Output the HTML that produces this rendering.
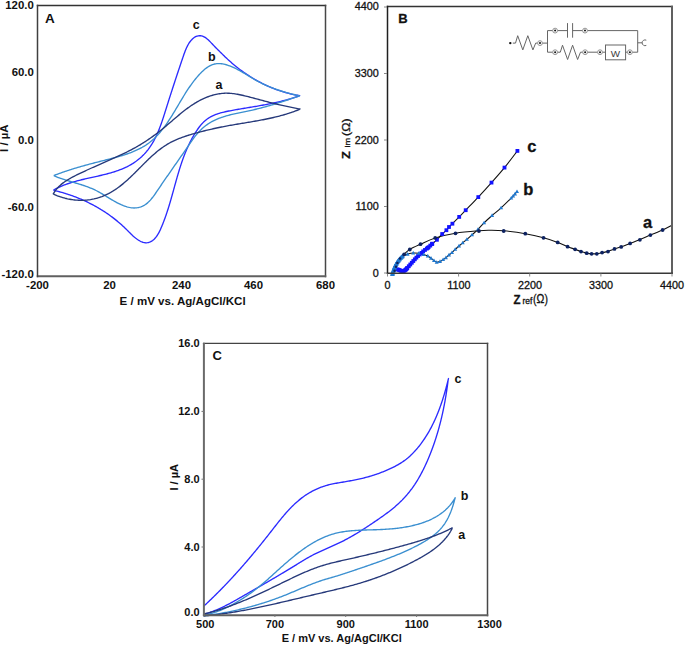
<!DOCTYPE html>
<html><head><meta charset="utf-8"><title>Figure</title>
<style>html,body{margin:0;padding:0;background:#fff;width:685px;height:645px;overflow:hidden}svg{display:block}text{font-family:"Liberation Sans",sans-serif}</style>
</head><body>
<svg width="685" height="645" viewBox="0 0 685 645">
<rect width="685" height="645" fill="#fff"/>
<g fill="none" stroke-width="1.35" stroke-linejoin="round">
<path stroke="#2b2bff" d="M53.45,190.12 L54.52,189.53 L55.59,188.95 L56.68,188.39 L57.76,187.86 L58.85,187.34 L59.95,186.83 L61.05,186.35 L62.16,185.88 L63.27,185.42 L64.39,184.98 L65.51,184.56 L66.63,184.15 L67.76,183.75 L68.89,183.36 L70.03,182.99 L71.17,182.63 L72.31,182.27 L73.46,181.93 L74.61,181.60 L75.76,181.28 L76.92,180.96 L78.07,180.66 L79.23,180.36 L80.40,180.06 L81.56,179.78 L82.73,179.50 L83.90,179.22 L85.07,178.95 L86.24,178.68 L87.42,178.41 L88.59,178.15 L89.77,177.89 L90.95,177.63 L92.12,177.37 L93.30,177.11 L94.48,176.84 L95.66,176.58 L96.84,176.32 L98.02,176.05 L99.20,175.78 L100.38,175.51 L101.56,175.23 L102.74,174.95 L103.92,174.67 L105.10,174.37 L106.28,174.07 L107.45,173.77 L108.63,173.45 L109.80,173.13 L110.96,172.79 L112.13,172.45 L113.29,172.10 L114.45,171.74 L115.60,171.36 L116.75,170.98 L117.89,170.58 L119.02,170.16 L120.15,169.74 L121.28,169.30 L122.39,168.84 L123.50,168.37 L124.60,167.88 L125.69,167.37 L126.78,166.85 L127.85,166.31 L128.91,165.75 L129.97,165.17 L131.01,164.57 L132.05,163.95 L133.07,163.31 L134.08,162.65 L135.07,161.97 L136.06,161.27 L137.03,160.55 L137.98,159.81 L138.92,159.05 L139.85,158.27 L140.76,157.47 L141.65,156.66 L142.52,155.83 L143.38,154.98 L144.22,154.12 L145.04,153.24 L145.83,152.35 L146.61,151.44 L147.37,150.51 L148.11,149.57 L148.82,148.62 L149.52,147.65 L150.20,146.68 L150.87,145.68 L151.51,144.68 L152.14,143.67 L152.75,142.64 L153.35,141.60 L153.93,140.56 L154.49,139.50 L155.04,138.43 L155.58,137.36 L156.11,136.27 L156.62,135.18 L157.12,134.08 L157.61,132.98 L158.08,131.86 L158.55,130.74 L159.01,129.62 L159.45,128.49 L159.89,127.35 L160.32,126.21 L160.74,125.06 L161.15,123.91 L161.56,122.76 L161.96,121.61 L162.35,120.45 L162.74,119.29 L163.12,118.13 L163.50,116.97 L163.88,115.81 L164.25,114.64 L164.62,113.48 L164.98,112.32 L165.35,111.16 L165.71,110.00 L166.07,108.84 L166.43,107.69 L166.80,106.53 L167.16,105.38 L167.52,104.24 L167.88,103.09 L168.24,101.95 L168.61,100.81 L168.97,99.67 L169.33,98.53 L169.69,97.39 L170.06,96.25 L170.42,95.12 L170.78,93.98 L171.15,92.85 L171.51,91.72 L171.88,90.59 L172.25,89.46 L172.61,88.32 L172.98,87.19 L173.35,86.06 L173.72,84.93 L174.09,83.80 L174.46,82.67 L174.83,81.53 L175.20,80.40 L175.57,79.27 L175.95,78.13 L176.32,77.00 L176.70,75.86 L177.08,74.72 L177.46,73.58 L177.84,72.44 L178.22,71.29 L178.60,70.15 L178.99,69.00 L179.37,67.85 L179.76,66.70 L180.15,65.54 L180.54,64.38 L180.93,63.22 L181.32,62.06 L181.72,60.89 L182.12,59.72 L182.51,58.55 L182.92,57.37 L183.32,56.19 L183.72,55.01 L184.14,53.83 L184.56,52.65 L185.00,51.48 L185.45,50.32 L185.93,49.17 L186.42,48.04 L186.94,46.93 L187.49,45.84 L188.07,44.77 L188.69,43.73 L189.34,42.72 L190.03,41.75 L190.77,40.81 L191.56,39.91 L192.39,39.06 L193.28,38.27 L194.20,37.55 L195.17,36.94 L196.17,36.44 L197.21,36.07 L198.26,35.82 L199.33,35.70 L200.41,35.71 L201.48,35.85 L202.53,36.13 L203.56,36.53 L204.58,37.06 L205.57,37.69 L206.55,38.41 L207.51,39.20 L208.45,40.06 L209.38,40.96 L210.30,41.89 L211.20,42.84 L212.09,43.79 L212.97,44.73 L213.84,45.64 L214.70,46.53 L215.55,47.41 L216.40,48.26 L217.25,49.11 L218.09,49.95 L218.93,50.78 L219.78,51.62 L220.62,52.45 L221.47,53.29 L222.32,54.13 L223.18,54.97 L224.04,55.81 L224.90,56.64 L225.77,57.47 L226.64,58.30 L227.52,59.12 L228.41,59.94 L229.30,60.75 L230.20,61.55 L231.10,62.35 L232.01,63.14 L232.93,63.92 L233.85,64.70 L234.78,65.47 L235.71,66.23 L236.65,66.98 L237.60,67.73 L238.55,68.47 L239.51,69.20 L240.47,69.93 L241.44,70.64 L242.41,71.35 L243.39,72.05 L244.38,72.75 L245.37,73.43 L246.37,74.11 L247.37,74.78 L248.38,75.44 L249.39,76.09 L250.41,76.74 L251.43,77.37 L252.46,78.00 L253.49,78.62 L254.53,79.23 L255.57,79.83 L256.62,80.42 L257.67,81.01 L258.73,81.58 L259.79,82.15 L260.86,82.70 L261.93,83.25 L263.01,83.79 L264.09,84.32 L265.18,84.84 L266.27,85.35 L267.36,85.85 L268.46,86.34 L269.57,86.82 L270.68,87.30 L271.79,87.76 L272.91,88.21 L274.03,88.65 L275.15,89.08 L276.28,89.51 L277.42,89.92 L278.55,90.32 L279.69,90.71 L280.84,91.09 L281.99,91.46 L283.14,91.82 L284.30,92.17 L285.46,92.51 L286.62,92.84 L287.79,93.15 L288.96,93.46 L290.14,93.75 L291.32,94.04 L292.50,94.31 L293.68,94.57 L294.87,94.82 L296.07,95.06 L297.26,95.28 L298.46,95.50 L299.66,95.70 L298.48,96.17 L297.32,96.57 L296.16,96.97 L294.99,97.35 L293.83,97.73 L292.66,98.10 L291.50,98.45 L290.34,98.80 L289.17,99.14 L288.00,99.48 L286.84,99.80 L285.67,100.12 L284.51,100.43 L283.34,100.74 L282.17,101.03 L281.01,101.32 L279.84,101.61 L278.67,101.88 L277.50,102.15 L276.33,102.42 L275.16,102.68 L273.99,102.93 L272.82,103.18 L271.64,103.43 L270.47,103.67 L269.30,103.91 L268.12,104.14 L266.95,104.37 L265.77,104.59 L264.60,104.81 L263.42,105.03 L262.24,105.25 L261.06,105.46 L259.88,105.67 L258.70,105.88 L257.52,106.08 L256.34,106.29 L255.16,106.49 L253.97,106.69 L252.79,106.89 L251.60,107.09 L250.41,107.29 L249.22,107.49 L248.03,107.68 L246.84,107.88 L245.65,108.08 L244.46,108.28 L243.26,108.48 L242.07,108.68 L240.87,108.88 L239.67,109.09 L238.47,109.29 L237.27,109.50 L236.07,109.71 L234.87,109.92 L233.66,110.14 L232.46,110.36 L231.25,110.58 L230.04,110.80 L228.83,111.03 L227.63,111.27 L226.42,111.52 L225.22,111.78 L224.03,112.05 L222.84,112.34 L221.66,112.64 L220.49,112.96 L219.33,113.30 L218.18,113.66 L217.05,114.04 L215.92,114.45 L214.81,114.88 L213.72,115.34 L212.64,115.83 L211.58,116.34 L210.55,116.89 L209.53,117.48 L208.53,118.10 L207.56,118.75 L206.60,119.45 L205.68,120.18 L204.78,120.95 L203.90,121.76 L203.05,122.61 L202.22,123.48 L201.41,124.38 L200.62,125.31 L199.85,126.27 L199.10,127.24 L198.37,128.24 L197.66,129.25 L196.96,130.27 L196.28,131.30 L195.61,132.35 L194.96,133.39 L194.32,134.45 L193.70,135.50 L193.08,136.56 L192.48,137.63 L191.90,138.69 L191.32,139.76 L190.76,140.84 L190.21,141.92 L189.67,143.00 L189.14,144.08 L188.62,145.17 L188.11,146.26 L187.61,147.35 L187.12,148.45 L186.64,149.55 L186.17,150.66 L185.71,151.76 L185.26,152.87 L184.82,153.98 L184.38,155.10 L183.95,156.21 L183.53,157.33 L183.12,158.45 L182.72,159.58 L182.32,160.70 L181.92,161.83 L181.54,162.96 L181.16,164.10 L180.78,165.23 L180.42,166.37 L180.05,167.51 L179.69,168.65 L179.34,169.79 L178.99,170.93 L178.64,172.08 L178.30,173.22 L177.96,174.37 L177.62,175.52 L177.29,176.67 L176.96,177.83 L176.63,178.98 L176.31,180.13 L175.98,181.29 L175.66,182.45 L175.34,183.60 L175.02,184.76 L174.70,185.92 L174.38,187.08 L174.06,188.24 L173.74,189.40 L173.42,190.57 L173.10,191.73 L172.78,192.89 L172.45,194.05 L172.13,195.22 L171.80,196.38 L171.47,197.54 L171.14,198.71 L170.81,199.87 L170.47,201.03 L170.13,202.20 L169.78,203.36 L169.44,204.52 L169.08,205.68 L168.73,206.84 L168.37,208.01 L168.00,209.17 L167.63,210.33 L167.25,211.49 L166.87,212.64 L166.48,213.80 L166.09,214.96 L165.69,216.11 L165.28,217.27 L164.86,218.42 L164.44,219.57 L164.01,220.72 L163.57,221.87 L163.12,223.02 L162.67,224.17 L162.20,225.31 L161.73,226.45 L161.25,227.60 L160.75,228.74 L160.25,229.87 L159.72,230.99 L159.17,232.09 L158.60,233.17 L158.00,234.22 L157.36,235.25 L156.69,236.23 L155.97,237.18 L155.21,238.08 L154.40,238.93 L153.54,239.72 L152.63,240.45 L151.68,241.10 L150.70,241.66 L149.68,242.12 L148.64,242.47 L147.58,242.70 L146.50,242.80 L145.41,242.77 L144.32,242.62 L143.22,242.35 L142.13,241.99 L141.04,241.54 L139.96,241.01 L138.90,240.41 L137.85,239.75 L136.83,239.04 L135.84,238.30 L134.87,237.53 L133.93,236.73 L133.01,235.91 L132.11,235.07 L131.23,234.21 L130.35,233.35 L129.48,232.48 L128.62,231.61 L127.76,230.73 L126.89,229.86 L126.02,229.00 L125.15,228.15 L124.27,227.31 L123.38,226.47 L122.48,225.65 L121.58,224.83 L120.67,224.02 L119.76,223.23 L118.84,222.44 L117.91,221.65 L116.98,220.88 L116.04,220.12 L115.10,219.36 L114.15,218.62 L113.19,217.88 L112.23,217.15 L111.26,216.43 L110.29,215.72 L109.31,215.02 L108.33,214.32 L107.34,213.63 L106.35,212.96 L105.35,212.29 L104.34,211.63 L103.33,210.98 L102.32,210.33 L101.30,209.70 L100.27,209.07 L99.24,208.46 L98.21,207.85 L97.17,207.25 L96.12,206.65 L95.07,206.07 L94.02,205.50 L92.96,204.93 L91.90,204.37 L90.83,203.82 L89.76,203.28 L88.68,202.74 L87.60,202.22 L86.52,201.70 L85.43,201.19 L84.34,200.69 L83.24,200.20 L82.14,199.71 L81.03,199.24 L79.92,198.77 L78.81,198.31 L77.69,197.86 L76.57,197.42 L75.45,196.98 L74.32,196.55 L73.19,196.13 L72.05,195.72 L70.91,195.32 L69.77,194.92 L68.63,194.54 L67.48,194.16 L66.32,193.79 L65.17,193.42 L64.01,193.07 L62.85,192.72 L61.68,192.38 L60.52,192.05 L59.35,191.73 L58.17,191.41 L57.00,191.11 L55.82,190.81 L54.64,190.51 L53.45,190.23"/>
<path stroke="#3a8fd0" d="M53.67,175.62 L54.82,175.17 L55.98,174.73 L57.13,174.30 L58.27,173.87 L59.42,173.45 L60.57,173.03 L61.72,172.63 L62.86,172.22 L64.01,171.82 L65.16,171.43 L66.30,171.05 L67.45,170.67 L68.59,170.29 L69.74,169.92 L70.88,169.55 L72.03,169.19 L73.17,168.84 L74.32,168.48 L75.46,168.14 L76.61,167.79 L77.76,167.45 L78.90,167.12 L80.05,166.78 L81.20,166.45 L82.35,166.13 L83.50,165.80 L84.65,165.48 L85.81,165.16 L86.96,164.85 L88.11,164.53 L89.27,164.22 L90.43,163.91 L91.59,163.60 L92.75,163.30 L93.91,162.99 L95.08,162.69 L96.24,162.39 L97.41,162.09 L98.58,161.79 L99.76,161.49 L100.93,161.19 L102.11,160.89 L103.29,160.59 L104.47,160.29 L105.65,160.00 L106.84,159.70 L108.03,159.40 L109.22,159.09 L110.41,158.79 L111.60,158.48 L112.79,158.17 L113.97,157.85 L115.16,157.54 L116.35,157.21 L117.54,156.88 L118.72,156.55 L119.90,156.21 L121.08,155.86 L122.25,155.50 L123.42,155.14 L124.58,154.77 L125.74,154.39 L126.90,154.00 L128.05,153.60 L129.19,153.19 L130.33,152.77 L131.46,152.34 L132.58,151.89 L133.69,151.44 L134.80,150.97 L135.90,150.48 L136.99,149.99 L138.07,149.48 L139.14,148.95 L140.19,148.41 L141.24,147.85 L142.28,147.28 L143.30,146.69 L144.32,146.08 L145.32,145.45 L146.31,144.81 L147.28,144.14 L148.24,143.46 L149.19,142.76 L150.12,142.04 L151.04,141.29 L151.94,140.53 L152.83,139.75 L153.71,138.96 L154.57,138.14 L155.43,137.31 L156.27,136.46 L157.10,135.60 L157.91,134.73 L158.72,133.84 L159.52,132.93 L160.30,132.02 L161.07,131.09 L161.84,130.15 L162.59,129.19 L163.34,128.23 L164.07,127.26 L164.80,126.28 L165.52,125.28 L166.23,124.29 L166.94,123.28 L167.63,122.27 L168.32,121.25 L169.00,120.22 L169.68,119.19 L170.35,118.15 L171.01,117.11 L171.67,116.07 L172.32,115.02 L172.96,113.97 L173.61,112.92 L174.24,111.87 L174.88,110.82 L175.51,109.76 L176.13,108.71 L176.76,107.66 L177.38,106.61 L178.00,105.57 L178.61,104.52 L179.23,103.48 L179.84,102.44 L180.45,101.41 L181.07,100.37 L181.68,99.34 L182.30,98.32 L182.92,97.29 L183.54,96.27 L184.16,95.25 L184.79,94.24 L185.42,93.23 L186.06,92.22 L186.70,91.22 L187.35,90.22 L188.01,89.23 L188.67,88.23 L189.34,87.25 L190.03,86.26 L190.72,85.28 L191.41,84.31 L192.12,83.34 L192.85,82.37 L193.58,81.41 L194.32,80.45 L195.08,79.50 L195.85,78.55 L196.64,77.61 L197.44,76.67 L198.25,75.73 L199.08,74.81 L199.93,73.89 L200.79,72.99 L201.67,72.10 L202.56,71.24 L203.47,70.40 L204.40,69.59 L205.34,68.81 L206.30,68.08 L207.27,67.38 L208.27,66.73 L209.28,66.13 L210.30,65.59 L211.35,65.10 L212.41,64.67 L213.49,64.31 L214.58,64.02 L215.70,63.80 L216.83,63.65 L217.97,63.58 L219.13,63.58 L220.30,63.64 L221.48,63.76 L222.66,63.94 L223.85,64.17 L225.04,64.44 L226.23,64.77 L227.42,65.13 L228.60,65.53 L229.78,65.96 L230.95,66.42 L232.10,66.90 L233.24,67.40 L234.37,67.92 L235.48,68.46 L236.59,69.01 L237.67,69.58 L238.75,70.15 L239.82,70.74 L240.88,71.34 L241.93,71.94 L242.98,72.55 L244.01,73.17 L245.05,73.79 L246.08,74.41 L247.11,75.04 L248.13,75.67 L249.16,76.29 L250.18,76.92 L251.21,77.54 L252.24,78.15 L253.27,78.76 L254.31,79.36 L255.35,79.96 L256.40,80.54 L257.46,81.11 L258.52,81.67 L259.59,82.23 L260.67,82.77 L261.75,83.30 L262.84,83.82 L263.93,84.33 L265.03,84.84 L266.14,85.33 L267.25,85.81 L268.37,86.28 L269.49,86.75 L270.61,87.20 L271.74,87.65 L272.87,88.08 L274.01,88.51 L275.15,88.93 L276.29,89.34 L277.44,89.74 L278.59,90.13 L279.75,90.51 L280.90,90.89 L282.06,91.25 L283.22,91.61 L284.38,91.96 L285.55,92.31 L286.71,92.64 L287.88,92.97 L289.05,93.29 L290.22,93.60 L291.39,93.90 L292.56,94.20 L293.73,94.49 L294.90,94.77 L296.07,95.05 L297.24,95.32 L298.40,95.58 L299.57,95.84 L298.49,96.24 L297.33,96.64 L296.17,97.03 L295.01,97.43 L293.85,97.82 L292.70,98.21 L291.55,98.59 L290.40,98.98 L289.25,99.36 L288.10,99.75 L286.95,100.13 L285.81,100.50 L284.66,100.88 L283.52,101.25 L282.38,101.62 L281.24,101.99 L280.09,102.35 L278.95,102.72 L277.81,103.08 L276.67,103.43 L275.53,103.79 L274.38,104.14 L273.24,104.48 L272.10,104.83 L270.95,105.17 L269.81,105.50 L268.66,105.84 L267.51,106.17 L266.36,106.49 L265.21,106.81 L264.05,107.13 L262.90,107.44 L261.74,107.75 L260.58,108.06 L259.42,108.36 L258.26,108.66 L257.09,108.95 L255.92,109.24 L254.74,109.52 L253.57,109.80 L252.39,110.07 L251.20,110.34 L250.02,110.60 L248.83,110.86 L247.63,111.11 L246.44,111.36 L245.24,111.61 L244.04,111.86 L242.84,112.10 L241.63,112.35 L240.43,112.59 L239.23,112.84 L238.03,113.09 L236.83,113.35 L235.63,113.61 L234.43,113.88 L233.24,114.15 L232.05,114.43 L230.86,114.71 L229.68,115.01 L228.51,115.31 L227.34,115.63 L226.17,115.96 L225.01,116.30 L223.86,116.65 L222.72,117.02 L221.58,117.40 L220.45,117.80 L219.33,118.22 L218.23,118.65 L217.13,119.10 L216.04,119.58 L214.96,120.07 L213.89,120.58 L212.84,121.12 L211.80,121.68 L210.77,122.26 L209.75,122.87 L208.75,123.50 L207.77,124.16 L206.79,124.84 L205.84,125.55 L204.90,126.28 L203.97,127.04 L203.06,127.81 L202.16,128.61 L201.28,129.43 L200.42,130.27 L199.57,131.13 L198.74,132.01 L197.92,132.91 L197.12,133.82 L196.34,134.76 L195.58,135.70 L194.83,136.67 L194.09,137.64 L193.37,138.63 L192.65,139.62 L191.95,140.62 L191.25,141.62 L190.56,142.63 L189.87,143.63 L189.18,144.63 L188.50,145.63 L187.81,146.63 L187.13,147.63 L186.44,148.62 L185.76,149.61 L185.08,150.59 L184.40,151.58 L183.72,152.56 L183.04,153.54 L182.36,154.52 L181.68,155.50 L181.00,156.48 L180.32,157.45 L179.64,158.43 L178.96,159.40 L178.28,160.37 L177.61,161.35 L176.93,162.32 L176.25,163.29 L175.57,164.26 L174.89,165.24 L174.21,166.21 L173.53,167.18 L172.86,168.16 L172.18,169.13 L171.50,170.11 L170.82,171.09 L170.13,172.07 L169.45,173.05 L168.77,174.03 L168.09,175.01 L167.40,176.00 L166.72,176.99 L166.03,177.98 L165.35,178.98 L164.66,179.97 L163.97,180.97 L163.28,181.98 L162.59,182.98 L161.90,183.99 L161.21,185.00 L160.51,186.02 L159.82,187.04 L159.12,188.07 L158.42,189.10 L157.73,190.13 L157.02,191.17 L156.32,192.21 L155.61,193.25 L154.89,194.28 L154.16,195.29 L153.43,196.30 L152.68,197.29 L151.91,198.25 L151.13,199.19 L150.34,200.10 L149.52,200.98 L148.68,201.82 L147.82,202.63 L146.93,203.39 L146.01,204.10 L145.07,204.76 L144.10,205.36 L143.09,205.91 L142.05,206.40 L140.97,206.82 L139.87,207.18 L138.74,207.47 L137.59,207.69 L136.43,207.85 L135.25,207.94 L134.06,207.97 L132.87,207.92 L131.68,207.82 L130.48,207.65 L129.29,207.42 L128.10,207.15 L126.92,206.82 L125.74,206.46 L124.57,206.05 L123.41,205.62 L122.27,205.15 L121.13,204.67 L120.02,204.16 L118.91,203.63 L117.82,203.09 L116.73,202.53 L115.66,201.96 L114.60,201.37 L113.55,200.77 L112.50,200.17 L111.46,199.55 L110.43,198.94 L109.40,198.31 L108.37,197.68 L107.35,197.06 L106.33,196.43 L105.31,195.80 L104.28,195.17 L103.26,194.56 L102.23,193.94 L101.20,193.34 L100.17,192.74 L99.13,192.15 L98.09,191.58 L97.03,191.02 L95.97,190.48 L94.90,189.95 L93.82,189.44 L92.73,188.95 L91.63,188.47 L90.52,188.01 L89.41,187.56 L88.28,187.13 L87.15,186.71 L86.02,186.30 L84.87,185.90 L83.73,185.51 L82.57,185.13 L81.42,184.76 L80.26,184.40 L79.10,184.04 L77.93,183.68 L76.76,183.33 L75.59,182.99 L74.43,182.64 L73.26,182.30 L72.09,181.95 L70.92,181.61 L69.75,181.26 L68.58,180.92 L67.42,180.56 L66.26,180.21 L65.10,179.85 L63.95,179.48 L62.80,179.10 L61.66,178.72 L60.52,178.33 L59.39,177.93 L58.27,177.52 L57.15,177.09 L56.04,176.65 L54.94,176.20 L53.85,175.74"/>
<path stroke="#26397a" d="M53.02,194.39 L53.60,193.32 L54.22,192.28 L54.88,191.28 L55.57,190.32 L56.29,189.38 L57.05,188.48 L57.84,187.60 L58.65,186.76 L59.50,185.94 L60.37,185.15 L61.27,184.38 L62.19,183.63 L63.13,182.91 L64.09,182.21 L65.07,181.53 L66.07,180.86 L67.09,180.22 L68.12,179.59 L69.16,178.97 L70.22,178.37 L71.28,177.78 L72.35,177.20 L73.43,176.63 L74.52,176.07 L75.61,175.52 L76.71,174.97 L77.80,174.43 L78.90,173.90 L79.99,173.37 L81.09,172.84 L82.19,172.31 L83.29,171.80 L84.39,171.28 L85.49,170.77 L86.59,170.26 L87.69,169.75 L88.80,169.25 L89.90,168.75 L91.00,168.25 L92.11,167.75 L93.21,167.26 L94.32,166.76 L95.43,166.27 L96.53,165.78 L97.64,165.29 L98.75,164.81 L99.86,164.32 L100.96,163.83 L102.07,163.35 L103.18,162.86 L104.29,162.37 L105.40,161.89 L106.51,161.40 L107.62,160.91 L108.73,160.42 L109.84,159.93 L110.94,159.44 L112.05,158.95 L113.16,158.45 L114.26,157.96 L115.37,157.46 L116.47,156.95 L117.57,156.45 L118.67,155.94 L119.77,155.43 L120.86,154.92 L121.96,154.40 L123.05,153.88 L124.14,153.35 L125.23,152.82 L126.31,152.28 L127.39,151.74 L128.47,151.20 L129.55,150.65 L130.62,150.09 L131.69,149.53 L132.75,148.97 L133.82,148.39 L134.87,147.81 L135.93,147.23 L136.98,146.63 L138.02,146.03 L139.07,145.42 L140.10,144.81 L141.13,144.19 L142.16,143.55 L143.18,142.92 L144.20,142.27 L145.22,141.61 L146.22,140.95 L147.23,140.28 L148.23,139.61 L149.22,138.93 L150.21,138.24 L151.20,137.54 L152.18,136.84 L153.16,136.13 L154.13,135.41 L155.11,134.69 L156.07,133.97 L157.04,133.23 L157.99,132.50 L158.95,131.75 L159.90,131.00 L160.85,130.25 L161.80,129.49 L162.74,128.73 L163.68,127.96 L164.61,127.19 L165.55,126.41 L166.48,125.64 L167.41,124.85 L168.33,124.07 L169.25,123.28 L170.18,122.49 L171.10,121.70 L172.02,120.90 L172.94,120.11 L173.86,119.32 L174.78,118.53 L175.71,117.74 L176.63,116.96 L177.56,116.17 L178.49,115.39 L179.42,114.61 L180.35,113.84 L181.29,113.08 L182.23,112.31 L183.18,111.56 L184.13,110.81 L185.09,110.07 L186.05,109.33 L187.02,108.61 L187.99,107.89 L188.97,107.18 L189.96,106.49 L190.95,105.80 L191.96,105.13 L192.97,104.46 L193.99,103.81 L195.02,103.17 L196.06,102.55 L197.11,101.94 L198.16,101.34 L199.23,100.76 L200.30,100.20 L201.39,99.65 L202.48,99.12 L203.57,98.61 L204.68,98.11 L205.79,97.64 L206.91,97.19 L208.03,96.75 L209.16,96.34 L210.30,95.95 L211.44,95.59 L212.59,95.24 L213.74,94.92 L214.90,94.63 L216.07,94.36 L217.23,94.12 L218.40,93.90 L219.58,93.71 L220.76,93.55 L221.94,93.42 L223.12,93.32 L224.31,93.24 L225.50,93.20 L226.69,93.19 L227.88,93.21 L229.08,93.26 L230.27,93.33 L231.47,93.43 L232.67,93.56 L233.87,93.70 L235.07,93.87 L236.27,94.06 L237.47,94.27 L238.67,94.49 L239.86,94.73 L241.06,94.98 L242.26,95.24 L243.45,95.51 L244.65,95.79 L245.84,96.08 L247.03,96.38 L248.22,96.68 L249.40,96.98 L250.59,97.29 L251.77,97.60 L252.95,97.91 L254.13,98.23 L255.30,98.55 L256.48,98.87 L257.65,99.18 L258.83,99.50 L260.00,99.82 L261.17,100.14 L262.34,100.45 L263.51,100.76 L264.67,101.07 L265.84,101.38 L267.01,101.69 L268.17,101.99 L269.34,102.29 L270.51,102.58 L271.67,102.88 L272.84,103.17 L274.01,103.46 L275.17,103.74 L276.34,104.02 L277.51,104.30 L278.68,104.58 L279.85,104.86 L281.02,105.13 L282.19,105.39 L283.36,105.66 L284.54,105.92 L285.72,106.18 L286.89,106.43 L288.07,106.68 L289.26,106.93 L290.44,107.17 L291.63,107.42 L292.82,107.65 L294.01,107.89 L295.20,108.12 L296.40,108.34 L297.60,108.57 L298.80,108.79 L300.01,109.00 L298.97,109.60 L297.84,110.05 L296.70,110.50 L295.56,110.93 L294.42,111.36 L293.28,111.77 L292.13,112.17 L290.99,112.57 L289.84,112.95 L288.69,113.33 L287.53,113.70 L286.38,114.05 L285.22,114.40 L284.07,114.74 L282.91,115.08 L281.74,115.40 L280.58,115.72 L279.42,116.03 L278.25,116.33 L277.08,116.63 L275.92,116.92 L274.75,117.20 L273.57,117.48 L272.40,117.75 L271.23,118.01 L270.05,118.27 L268.88,118.52 L267.70,118.77 L266.52,119.02 L265.34,119.26 L264.16,119.49 L262.98,119.72 L261.80,119.95 L260.62,120.17 L259.43,120.39 L258.25,120.61 L257.06,120.82 L255.88,121.03 L254.69,121.24 L253.50,121.45 L252.32,121.65 L251.13,121.86 L249.94,122.06 L248.75,122.26 L247.56,122.45 L246.37,122.65 L245.18,122.85 L243.99,123.05 L242.80,123.24 L241.61,123.44 L240.42,123.64 L239.23,123.83 L238.04,124.03 L236.85,124.23 L235.66,124.43 L234.47,124.64 L233.28,124.84 L232.09,125.05 L230.90,125.25 L229.71,125.46 L228.53,125.68 L227.34,125.89 L226.15,126.11 L224.96,126.34 L223.77,126.56 L222.59,126.79 L221.40,127.03 L220.22,127.27 L219.03,127.51 L217.85,127.75 L216.67,128.00 L215.48,128.26 L214.30,128.52 L213.12,128.78 L211.94,129.05 L210.76,129.32 L209.58,129.59 L208.40,129.87 L207.22,130.15 L206.04,130.44 L204.86,130.73 L203.69,131.02 L202.51,131.32 L201.33,131.63 L200.16,131.93 L198.98,132.24 L197.81,132.56 L196.64,132.88 L195.46,133.20 L194.29,133.53 L193.12,133.86 L191.95,134.20 L190.78,134.55 L189.62,134.90 L188.45,135.26 L187.30,135.63 L186.14,136.00 L184.99,136.38 L183.84,136.78 L182.70,137.18 L181.57,137.60 L180.44,138.02 L179.31,138.46 L178.20,138.91 L177.09,139.37 L175.98,139.85 L174.89,140.34 L173.80,140.84 L172.72,141.36 L171.66,141.90 L170.60,142.45 L169.55,143.02 L168.51,143.60 L167.48,144.20 L166.47,144.82 L165.46,145.46 L164.46,146.11 L163.48,146.78 L162.50,147.47 L161.53,148.16 L160.57,148.87 L159.61,149.60 L158.67,150.34 L157.73,151.08 L156.80,151.84 L155.87,152.62 L154.95,153.40 L154.04,154.19 L153.13,154.99 L152.23,155.80 L151.34,156.62 L150.44,157.44 L149.56,158.27 L148.67,159.11 L147.79,159.96 L146.92,160.80 L146.04,161.66 L145.17,162.52 L144.30,163.38 L143.43,164.24 L142.57,165.11 L141.70,165.98 L140.84,166.85 L139.98,167.72 L139.11,168.59 L138.25,169.46 L137.39,170.33 L136.52,171.19 L135.66,172.06 L134.79,172.92 L133.92,173.78 L133.05,174.63 L132.17,175.48 L131.30,176.33 L130.42,177.17 L129.53,178.00 L128.65,178.83 L127.75,179.65 L126.86,180.46 L125.96,181.26 L125.05,182.06 L124.14,182.84 L123.22,183.61 L122.29,184.38 L121.36,185.13 L120.42,185.87 L119.48,186.60 L118.52,187.31 L117.56,188.01 L116.59,188.70 L115.61,189.37 L114.62,190.03 L113.62,190.67 L112.62,191.29 L111.60,191.90 L110.57,192.49 L109.53,193.06 L108.48,193.62 L107.42,194.15 L106.35,194.66 L105.27,195.16 L104.18,195.63 L103.07,196.08 L101.96,196.52 L100.84,196.93 L99.71,197.32 L98.58,197.69 L97.43,198.03 L96.28,198.35 L95.12,198.65 L93.96,198.93 L92.79,199.18 L91.61,199.41 L90.43,199.62 L89.24,199.80 L88.05,199.95 L86.85,200.08 L85.65,200.19 L84.44,200.27 L83.24,200.32 L82.02,200.34 L80.81,200.34 L79.60,200.32 L78.38,200.27 L77.17,200.20 L75.95,200.10 L74.74,199.98 L73.52,199.84 L72.31,199.67 L71.10,199.48 L69.89,199.27 L68.68,199.04 L67.48,198.79 L66.28,198.51 L65.09,198.22 L63.90,197.90 L62.71,197.57 L61.54,197.22 L60.36,196.84 L59.20,196.45 L58.04,196.04 L56.89,195.62 L55.75,195.17 L54.62,194.71 L53.50,194.24"/>
</g>
<line x1="36.75" y1="5.50" x2="326.25" y2="5.50" stroke="#333" stroke-width="1.40"/><line x1="325.50" y1="4.80" x2="325.50" y2="277.20" stroke="#474747" stroke-width="1.50"/><line x1="36.75" y1="276.20" x2="326.25" y2="276.20" stroke="#606060" stroke-width="2.00"/><line x1="37.50" y1="4.80" x2="37.50" y2="277.20" stroke="#404040" stroke-width="1.50"/>
<g font-family="&quot;Liberation Sans&quot;, sans-serif" font-size="11.4" font-weight="bold" fill="#111">
<text x="33.8" y="9.4" text-anchor="end">120.0</text>
<text x="33.8" y="76.3" text-anchor="end">60.0</text>
<text x="33.8" y="143.8" text-anchor="end">0.0</text>
<text x="33.8" y="211.3" text-anchor="end">-60.0</text>
<text x="33.8" y="278.2" text-anchor="end">-120.0</text>
<text x="37.5" y="289.3" text-anchor="middle">-200</text>
<text x="109.5" y="289.3" text-anchor="middle">20</text>
<text x="181.5" y="289.3" text-anchor="middle">240</text>
<text x="253.5" y="289.3" text-anchor="middle">460</text>
<text x="325.5" y="289.3" text-anchor="middle">680</text>
<text x="119.6" y="305.4" textLength="126" lengthAdjust="spacingAndGlyphs">E / mV vs. Ag/AgCl/KCl</text>
<text transform="translate(8.4,138.2) rotate(-90)" text-anchor="middle">I / µA</text>
<text x="45" y="23" font-size="13.5">A</text>
<text x="192.7" y="28.5" font-size="12.5">c</text>
<text x="208" y="61.2" font-size="12.5">b</text>
<text x="215.6" y="88.7" font-size="12.5">a</text>
</g>
<g fill="none" stroke="#111" stroke-width="1.1">
<path d="M393.20,273.00 C393.37,272.30 393.78,270.17 394.20,268.80 C394.62,267.43 395.13,266.07 395.70,264.80 C396.27,263.53 396.88,262.33 397.60,261.20 C398.32,260.07 398.92,259.17 400.00,258.00 C401.08,256.83 402.47,255.63 404.10,254.20 C405.73,252.77 407.07,251.07 409.80,249.40 C412.53,247.73 416.27,246.12 420.50,244.20 C424.73,242.28 429.37,239.73 435.20,237.90 C441.03,236.07 448.22,234.40 455.50,233.20 C462.78,232.00 473.15,231.18 478.90,230.70 C484.65,230.22 485.87,230.28 490.00,230.30 C494.13,230.32 497.82,230.23 503.70,230.80 C509.58,231.37 518.67,232.53 525.30,233.70 C531.93,234.87 538.10,236.35 543.50,237.80 C548.90,239.25 553.68,240.92 557.70,242.40 C561.72,243.88 564.70,245.55 567.60,246.70 C570.50,247.85 572.87,248.48 575.10,249.30 C577.33,250.12 579.07,250.97 581.00,251.60 C582.93,252.23 584.93,252.73 586.70,253.10 C588.47,253.47 589.92,253.68 591.60,253.80 C593.28,253.92 595.05,253.97 596.80,253.80 C598.55,253.63 600.23,253.20 602.10,252.80 C603.97,252.40 605.93,252.03 608.00,251.40 C610.07,250.77 612.30,249.77 614.50,249.00 C616.70,248.23 618.60,247.73 621.20,246.80 C623.80,245.87 626.98,244.60 630.10,243.40 C633.22,242.20 636.52,240.98 639.90,239.60 C643.28,238.22 646.62,236.70 650.40,235.10 C654.18,233.50 659.07,231.62 662.60,230.00 C666.13,228.38 670.10,226.17 671.60,225.40"/>
<path d="M392.40,274.30 C392.53,273.78 392.90,272.22 393.20,271.20 C393.50,270.18 393.82,269.18 394.20,268.20 C394.58,267.22 395.03,266.23 395.50,265.30 C395.97,264.37 396.47,263.45 397.00,262.60 C397.53,261.75 398.12,260.95 398.70,260.20 C399.28,259.45 399.90,258.72 400.50,258.10 C401.10,257.48 401.67,256.97 402.30,256.50 C402.93,256.03 403.42,255.70 404.30,255.30 C405.18,254.90 406.12,254.48 407.60,254.10 C409.08,253.72 411.35,253.13 413.20,253.00 C415.05,252.87 416.95,253.03 418.70,253.30 C420.45,253.57 422.18,254.15 423.70,254.60 C425.22,255.05 426.58,255.40 427.80,256.00 C429.02,256.60 429.97,257.43 431.00,258.20 C432.03,258.97 433.05,259.92 434.00,260.60 C434.95,261.28 435.70,262.17 436.70,262.30 C437.70,262.43 438.93,261.85 440.00,261.40 C441.07,260.95 442.12,260.22 443.10,259.60 C444.08,258.98 444.92,258.47 445.90,257.70 C446.88,256.93 447.98,255.85 449.00,255.00 C450.02,254.15 450.97,253.53 452.00,252.60 C453.03,251.67 454.03,250.50 455.20,249.40 C456.37,248.30 457.75,247.10 459.00,246.00 C460.25,244.90 461.38,243.90 462.70,242.80 C464.02,241.70 465.35,240.72 466.90,239.40 C468.45,238.08 470.15,236.58 472.00,234.90 C473.85,233.22 475.98,231.32 478.00,229.30 C480.02,227.28 481.75,225.10 484.10,222.80 C486.45,220.50 489.27,218.00 492.10,215.50 C494.93,213.00 497.92,210.70 501.10,207.80 C504.28,204.90 508.55,200.80 511.20,198.10 C513.85,195.40 516.03,192.68 517.00,191.60"/>
<path d="M397.40,269.40 C397.70,269.50 398.57,269.75 399.20,270.00 C399.83,270.25 400.50,270.72 401.20,270.90 C401.90,271.08 402.72,271.22 403.40,271.10 C404.08,270.98 404.65,270.72 405.30,270.20 C405.95,269.68 406.62,268.78 407.30,268.00 C407.98,267.22 408.68,266.33 409.40,265.50 C410.12,264.67 410.83,263.88 411.60,263.00 C412.37,262.12 413.18,261.12 414.00,260.20 C414.82,259.28 415.70,258.32 416.50,257.50 C417.30,256.68 418.02,256.02 418.80,255.30 C419.58,254.58 420.40,253.92 421.20,253.20 C422.00,252.48 422.92,251.58 423.60,251.00 C424.28,250.42 424.60,250.22 425.30,249.70 C426.00,249.18 426.63,248.90 427.80,247.90 C428.97,246.90 430.78,245.05 432.30,243.70 C433.82,242.35 435.25,241.42 436.90,239.80 C438.55,238.18 440.62,235.60 442.20,234.00 C443.78,232.40 445.27,231.37 446.40,230.20 C447.53,229.03 448.00,228.08 449.00,227.00 C450.00,225.92 450.70,225.38 452.40,223.70 C454.10,222.02 456.98,219.15 459.20,216.90 C461.42,214.65 462.52,213.50 465.70,210.20 C468.88,206.90 474.00,201.70 478.30,197.10 C482.60,192.50 487.13,187.52 491.50,182.60 C495.87,177.68 500.18,172.88 504.50,167.60 C508.82,162.32 515.25,153.68 517.40,150.90"/>
</g>
<g fill="#1212ff">
<rect x="395.50" y="267.50" width="3.80" height="3.80"/>
<rect x="396.45" y="267.82" width="3.80" height="3.80"/>
<rect x="397.39" y="268.14" width="3.80" height="3.80"/>
<rect x="398.31" y="268.55" width="3.80" height="3.80"/>
<rect x="399.22" y="268.96" width="3.80" height="3.80"/>
<rect x="400.21" y="269.08" width="3.80" height="3.80"/>
<rect x="401.20" y="269.17" width="3.80" height="3.80"/>
<rect x="402.13" y="268.90" width="3.80" height="3.80"/>
<rect x="403.04" y="268.47" width="3.80" height="3.80"/>
<rect x="403.80" y="267.86" width="3.80" height="3.80"/>
<rect x="404.47" y="267.12" width="3.80" height="3.80"/>
<rect x="405.15" y="266.38" width="3.80" height="3.80"/>
<rect x="405.40" y="266.10" width="3.80" height="3.80"/>
<rect x="406.88" y="264.34" width="3.80" height="3.80"/>
<rect x="408.38" y="262.60" width="3.80" height="3.80"/>
<rect x="409.90" y="260.87" width="3.80" height="3.80"/>
<rect x="411.40" y="259.12" width="3.80" height="3.80"/>
<rect x="412.93" y="257.41" width="3.80" height="3.80"/>
<rect x="414.49" y="255.72" width="3.80" height="3.80"/>
<rect x="416.14" y="254.12" width="3.80" height="3.80"/>
<rect x="417.84" y="252.57" width="3.80" height="3.80"/>
<rect x="419.57" y="251.05" width="3.80" height="3.80"/>
<rect x="421.26" y="249.50" width="3.80" height="3.80"/>
<rect x="423.06" y="248.06" width="3.80" height="3.80"/>
<rect x="424.92" y="246.71" width="3.80" height="3.80"/>
<rect x="426.70" y="245.26" width="3.80" height="3.80"/>
<rect x="428.38" y="243.69" width="3.80" height="3.80"/>
<rect x="430.06" y="242.12" width="3.80" height="3.80"/>
<rect x="457.30" y="215.00" width="3.80" height="3.80"/>
<rect x="463.80" y="208.30" width="3.80" height="3.80"/>
<rect x="476.40" y="195.20" width="3.80" height="3.80"/>
<rect x="489.60" y="180.70" width="3.80" height="3.80"/>
<rect x="502.60" y="165.70" width="3.80" height="3.80"/>
<rect x="515.50" y="149.00" width="3.80" height="3.80"/>
<rect x="450.50" y="221.80" width="3.80" height="3.80"/>
<rect x="447.10" y="225.10" width="3.80" height="3.80"/>
<rect x="444.50" y="228.30" width="3.80" height="3.80"/>
<rect x="440.30" y="232.10" width="3.80" height="3.80"/>
<rect x="435.00" y="237.90" width="3.80" height="3.80"/>
<rect x="430.40" y="241.80" width="3.80" height="3.80"/>
<rect x="425.90" y="246.00" width="3.80" height="3.80"/>
</g>
<g fill="#1f78d0">
<path d="M392.40,271.71L394.80,276.03L390.00,276.03Z"/>
<path d="M392.62,270.84L395.02,275.16L390.22,275.16Z"/>
<path d="M392.85,269.97L395.25,274.29L390.45,274.29Z"/>
<path d="M393.07,269.09L395.47,273.41L390.67,273.41Z"/>
<path d="M393.33,268.23L395.73,272.55L390.93,272.55Z"/>
<path d="M393.61,267.38L396.01,271.70L391.21,271.70Z"/>
<path d="M393.90,266.52L396.30,270.84L391.50,270.84Z"/>
<path d="M394.18,265.67L396.58,269.99L391.78,269.99Z"/>
<path d="M394.54,264.84L396.94,269.16L392.14,269.16Z"/>
<path d="M394.91,264.02L397.31,268.34L392.51,268.34Z"/>
<path d="M395.28,263.20L397.68,267.52L392.88,267.52Z"/>
<path d="M395.67,262.39L398.07,266.71L393.27,266.71Z"/>
<path d="M396.11,261.61L398.51,265.93L393.71,265.93Z"/>
<path d="M396.55,260.82L398.95,265.14L394.15,265.14Z"/>
<path d="M396.99,260.03L399.39,264.35L394.59,264.35Z"/>
<path d="M397.50,259.30L399.90,263.62L395.10,263.62Z"/>
<path d="M398.02,258.56L400.42,262.88L395.62,262.88Z"/>
<path d="M398.54,257.83L400.94,262.15L396.14,262.15Z"/>
<path d="M399.11,257.13L401.51,261.45L396.71,261.45Z"/>
<path d="M399.69,256.45L402.09,260.77L397.29,260.77Z"/>
<path d="M400.28,255.76L402.68,260.08L397.88,260.08Z"/>
<path d="M400.92,255.13L403.32,259.45L398.52,259.45Z"/>
<path d="M401.59,254.54L403.99,258.86L399.19,258.86Z"/>
<path d="M402.27,253.94L404.67,258.26L399.87,258.26Z"/>
<path d="M443.10,257.44L445.10,261.04L441.10,261.04Z"/>
<path d="M445.90,255.54L447.90,259.14L443.90,259.14Z"/>
<path d="M449.00,252.84L451.00,256.44L447.00,256.44Z"/>
<path d="M452.00,250.44L454.00,254.04L450.00,254.04Z"/>
<path d="M455.20,247.24L457.20,250.84L453.20,250.84Z"/>
<path d="M459.00,243.84L461.00,247.44L457.00,247.44Z"/>
<path d="M462.70,240.64L464.70,244.24L460.70,244.24Z"/>
<path d="M466.90,237.24L468.90,240.84L464.90,240.84Z"/>
<path d="M472.00,232.74L474.00,236.34L470.00,236.34Z"/>
<path d="M478.00,227.14L480.00,230.74L476.00,230.74Z"/>
<path d="M484.10,220.64L486.10,224.24L482.10,224.24Z"/>
<path d="M492.10,213.34L494.10,216.94L490.10,216.94Z"/>
<path d="M501.10,205.64L503.10,209.24L499.10,209.24Z"/>
<path d="M511.20,195.94L513.20,199.54L509.20,199.54Z"/>
<path d="M513.10,193.94L515.10,197.54L511.10,197.54Z"/>
<path d="M515.00,191.84L517.00,195.44L513.00,195.44Z"/>
<path d="M517.00,189.44L519.00,193.04L515.00,193.04Z"/>
<path d="M402.90,253.84L404.90,257.44L400.90,257.44Z"/>
<path d="M407.60,252.04L409.60,255.64L405.60,255.64Z"/>
<path d="M413.20,250.84L415.20,254.44L411.20,254.44Z"/>
<path d="M418.70,251.24L420.70,254.84L416.70,254.84Z"/>
<path d="M423.70,252.44L425.70,256.04L421.70,256.04Z"/>
<path d="M427.80,253.84L429.80,257.44L425.80,257.44Z"/>
<path d="M431.00,256.04L433.00,259.64L429.00,259.64Z"/>
<path d="M434.00,258.44L436.00,262.04L432.00,262.04Z"/>
<path d="M436.70,260.24L438.70,263.84L434.70,263.84Z"/>
<path d="M440.00,259.34L442.00,262.94L438.00,262.94Z"/>
</g>
<g fill="#0d2260">
<circle cx="394.60" cy="270.80" r="1.30"/>
<circle cx="396.00" cy="266.80" r="1.30"/>
<circle cx="397.40" cy="263.00" r="1.30"/>
<circle cx="400.00" cy="258.50" r="1.30"/>
<circle cx="404.10" cy="254.40" r="1.90"/>
<circle cx="409.80" cy="249.50" r="1.90"/>
<circle cx="420.50" cy="244.20" r="1.90"/>
<circle cx="435.20" cy="237.90" r="1.90"/>
<circle cx="455.50" cy="233.30" r="1.90"/>
<circle cx="478.90" cy="231.00" r="1.90"/>
<circle cx="503.70" cy="231.00" r="1.90"/>
<circle cx="525.30" cy="233.70" r="1.90"/>
<circle cx="543.50" cy="237.80" r="1.90"/>
<circle cx="557.70" cy="242.40" r="1.90"/>
<circle cx="567.60" cy="246.70" r="1.90"/>
<circle cx="575.10" cy="249.30" r="1.90"/>
<circle cx="581.00" cy="251.60" r="1.90"/>
<circle cx="586.70" cy="253.20" r="1.90"/>
<circle cx="591.60" cy="253.80" r="1.90"/>
<circle cx="596.80" cy="253.80" r="1.90"/>
<circle cx="602.10" cy="252.60" r="1.90"/>
<circle cx="608.00" cy="251.60" r="1.90"/>
<circle cx="614.50" cy="248.90" r="1.90"/>
<circle cx="621.20" cy="246.90" r="1.90"/>
<circle cx="630.10" cy="243.40" r="1.90"/>
<circle cx="639.90" cy="239.80" r="1.90"/>
<circle cx="650.40" cy="235.10" r="1.90"/>
<circle cx="662.60" cy="230.00" r="1.90"/>
</g>
<line x1="386.75" y1="6.50" x2="673.00" y2="6.50" stroke="#333" stroke-width="1.50"/><line x1="672.00" y1="5.75" x2="672.00" y2="274.05" stroke="#606060" stroke-width="2.00"/><line x1="386.75" y1="273.30" x2="673.00" y2="273.30" stroke="#383838" stroke-width="1.50"/><line x1="387.50" y1="5.75" x2="387.50" y2="274.05" stroke="#202020" stroke-width="1.50"/>
<g stroke="#888" stroke-width="1">
<line x1="384" y1="7.0" x2="387" y2="7.0"/>
<line x1="384" y1="73.5" x2="387" y2="73.5"/>
<line x1="384" y1="140.0" x2="387" y2="140.0"/>
<line x1="384" y1="206.5" x2="387" y2="206.5"/>
<line x1="384" y1="273.0" x2="387" y2="273.0"/>
<line x1="387.5" y1="273.5" x2="387.5" y2="276.5"/>
<line x1="458.6" y1="273.5" x2="458.6" y2="276.5"/>
<line x1="529.7" y1="273.5" x2="529.7" y2="276.5"/>
<line x1="600.9" y1="273.5" x2="600.9" y2="276.5"/>
<line x1="672.0" y1="273.5" x2="672.0" y2="276.5"/>
</g>
<g font-family="&quot;Liberation Sans&quot;, sans-serif" font-size="10.8" fill="#111" stroke="#111" stroke-width="0.3">
<text x="378.8" y="9.6" text-anchor="end">4400</text>
<text x="378.8" y="77.1" text-anchor="end">3300</text>
<text x="378.8" y="143.6" text-anchor="end">2200</text>
<text x="378.8" y="210.1" text-anchor="end">1100</text>
<text x="378.8" y="276.6" text-anchor="end">0</text>
<text x="387.5" y="289.2" text-anchor="middle">0</text>
<text x="458.9" y="289.2" text-anchor="middle">1100</text>
<text x="529.9" y="289.2" text-anchor="middle">2200</text>
<text x="601.0" y="289.2" text-anchor="middle">3300</text>
<text x="672.0" y="289.2" text-anchor="middle">4400</text>
<text x="513.4" y="303.6" font-weight="bold" font-size="12.5" textLength="7" lengthAdjust="spacingAndGlyphs">Z</text>
<text x="522.5" y="303.8" font-size="8.8" textLength="9.8" lengthAdjust="spacingAndGlyphs">ref</text>
<text x="533.1" y="303.4" font-size="12.5" textLength="14.8" lengthAdjust="spacingAndGlyphs">(Ω)</text>
<g transform="translate(350.1,158.6) rotate(-90)">
<text x="-0.3" y="0" font-weight="bold" font-size="11" textLength="7.8" lengthAdjust="spacingAndGlyphs">Z</text>
<text x="11" y="-0.2" font-size="8" textLength="9.8" lengthAdjust="spacingAndGlyphs">im</text>
<text x="22.6" y="-0.6" font-size="10.6" textLength="17.6" lengthAdjust="spacingAndGlyphs">(Ω)</text>
</g>
<text x="398.2" y="22.8" font-size="13" font-weight="bold">B</text>
<text x="527.3" y="152" font-size="16.5" font-weight="bold">c</text>
<text x="523.2" y="194.6" font-size="16.5" font-weight="bold">b</text>
<text x="643" y="227.5" font-size="16.5" font-weight="bold">a</text>
</g>
<g fill="none" stroke="#666" stroke-width="1">
<path d="M512.8,43.1 H515.5 L517.7,35.7 L522.8,49.9 L527.8,35.7 L532.9,49.9 L535.7,43.1 H537.5"/>
<path d="M542.5,43.1 H547.5 M547.5,30.6 V52.2 M547.5,30.6 H552.6 M557.6,30.6 H567.5 M572.6,30.6 H582.5 M587.5,30.6 H637.7 V52.2 H632.4 M547.5,52.2 H552.6 M557.6,52.2 H560.3 L562.5,45.2 L567.6,59.5 L572.6,45.2 L577.6,59.5 L580.5,52.2 H582.6 M587.6,52.2 H597.5 M602.5,52.2 H605.5 M625.6,52.2 H627.4 M637.7,42.8 H642.2"/>
<path d="M567.5,23.1 V37.7 M572.6,23.1 V37.7"/>
<rect x="605.5" y="45" width="20.1" height="14.8"/>
<path d="M646.3,40.2 A2.9,2.9 0 1 0 646.3,45.4"/>
<circle cx="540.0" cy="43.1" r="2.4" stroke="#888" stroke-width="0.9"/>
<circle cx="555.1" cy="30.6" r="2.4" stroke="#888" stroke-width="0.9"/>
<circle cx="585.0" cy="30.6" r="2.4" stroke="#888" stroke-width="0.9"/>
<circle cx="555.1" cy="52.2" r="2.4" stroke="#888" stroke-width="0.9"/>
<circle cx="585.1" cy="52.2" r="2.4" stroke="#888" stroke-width="0.9"/>
<circle cx="600.0" cy="52.2" r="2.4" stroke="#888" stroke-width="0.9"/>
<circle cx="629.9" cy="52.2" r="2.4" stroke="#888" stroke-width="0.9"/>
</g>
<g fill="#111">
<circle cx="540.0" cy="43.1" r="1"/>
<circle cx="555.1" cy="30.6" r="1"/>
<circle cx="585.0" cy="30.6" r="1"/>
<circle cx="555.1" cy="52.2" r="1"/>
<circle cx="585.1" cy="52.2" r="1"/>
<circle cx="600.0" cy="52.2" r="1"/>
<circle cx="629.9" cy="52.2" r="1"/>
<circle cx="510.3" cy="43.1" r="1.2"/>
</g>
<text x="615.3" y="56.9" font-size="9.9" text-anchor="middle" fill="#3a3a3a" font-family="&quot;Liberation Sans&quot;, sans-serif">W</text>
<g fill="none" stroke-width="1.35" stroke-linejoin="round" transform="translate(0,0.9)">
<path stroke="#2b2bff" d="M203.47,605.55 L204.37,604.72 L205.26,603.89 L206.15,603.06 L207.04,602.22 L207.92,601.39 L208.80,600.55 L209.68,599.71 L210.55,598.87 L211.43,598.03 L212.30,597.19 L213.17,596.34 L214.03,595.49 L214.89,594.64 L215.75,593.79 L216.61,592.94 L217.47,592.09 L218.32,591.23 L219.17,590.38 L220.02,589.52 L220.86,588.66 L221.71,587.80 L222.55,586.93 L223.39,586.07 L224.22,585.20 L225.06,584.34 L225.89,583.47 L226.72,582.60 L227.55,581.72 L228.37,580.85 L229.20,579.97 L230.02,579.10 L230.84,578.22 L231.66,577.34 L232.47,576.45 L233.28,575.57 L234.10,574.68 L234.90,573.80 L235.71,572.91 L236.52,572.02 L237.32,571.13 L238.12,570.23 L238.92,569.34 L239.72,568.44 L240.52,567.55 L241.31,566.65 L242.11,565.75 L242.90,564.84 L243.69,563.94 L244.47,563.03 L245.26,562.13 L246.05,561.22 L246.83,560.31 L247.61,559.40 L248.39,558.48 L249.17,557.57 L249.95,556.65 L250.72,555.73 L251.50,554.81 L252.27,553.89 L253.04,552.97 L253.81,552.04 L254.58,551.12 L255.35,550.19 L256.12,549.26 L256.88,548.33 L257.65,547.40 L258.41,546.47 L259.17,545.53 L259.93,544.60 L260.69,543.66 L261.45,542.72 L262.21,541.78 L262.96,540.84 L263.72,539.89 L264.47,538.95 L265.23,538.00 L265.98,537.05 L266.73,536.10 L267.48,535.15 L268.23,534.20 L268.98,533.24 L269.73,532.29 L270.48,531.33 L271.22,530.37 L271.97,529.41 L272.72,528.45 L273.46,527.49 L274.21,526.53 L274.96,525.57 L275.71,524.61 L276.46,523.65 L277.21,522.70 L277.97,521.75 L278.73,520.80 L279.49,519.85 L280.25,518.90 L281.02,517.96 L281.79,517.03 L282.56,516.10 L283.34,515.17 L284.12,514.25 L284.91,513.33 L285.71,512.42 L286.50,511.52 L287.31,510.62 L288.12,509.73 L288.94,508.85 L289.76,507.97 L290.59,507.10 L291.43,506.25 L292.27,505.40 L293.12,504.56 L293.99,503.73 L294.85,502.91 L295.73,502.10 L296.62,501.30 L297.52,500.51 L298.42,499.74 L299.34,498.97 L300.26,498.22 L301.20,497.48 L302.15,496.76 L303.11,496.05 L304.08,495.35 L305.06,494.67 L306.05,494.00 L307.06,493.34 L308.08,492.71 L309.11,492.08 L310.15,491.48 L311.20,490.89 L312.27,490.31 L313.34,489.75 L314.43,489.21 L315.52,488.69 L316.62,488.18 L317.73,487.69 L318.85,487.22 L319.98,486.77 L321.11,486.33 L322.25,485.92 L323.40,485.52 L324.55,485.14 L325.71,484.78 L326.87,484.44 L328.04,484.12 L329.21,483.82 L330.38,483.54 L331.56,483.27 L332.74,483.02 L333.92,482.78 L335.10,482.56 L336.29,482.34 L337.47,482.13 L338.66,481.92 L339.84,481.72 L341.03,481.51 L342.21,481.31 L343.40,481.11 L344.58,480.90 L345.77,480.70 L346.95,480.49 L348.13,480.29 L349.31,480.08 L350.49,479.86 L351.68,479.64 L352.85,479.42 L354.03,479.20 L355.21,478.96 L356.39,478.73 L357.56,478.48 L358.74,478.23 L359.91,477.98 L361.08,477.71 L362.26,477.44 L363.43,477.16 L364.60,476.87 L365.76,476.56 L366.93,476.25 L368.09,475.93 L369.26,475.60 L370.42,475.26 L371.58,474.91 L372.74,474.56 L373.89,474.19 L375.04,473.81 L376.19,473.42 L377.34,473.02 L378.48,472.62 L379.62,472.20 L380.76,471.78 L381.89,471.34 L383.02,470.90 L384.14,470.44 L385.27,469.98 L386.38,469.51 L387.49,469.03 L388.60,468.54 L389.70,468.04 L390.80,467.53 L391.89,467.01 L392.97,466.48 L394.05,465.94 L395.12,465.39 L396.19,464.82 L397.24,464.25 L398.28,463.66 L399.32,463.05 L400.34,462.43 L401.36,461.79 L402.36,461.14 L403.34,460.46 L404.32,459.77 L405.28,459.06 L406.23,458.34 L407.16,457.59 L408.08,456.82 L408.98,456.03 L409.87,455.23 L410.75,454.41 L411.61,453.58 L412.46,452.73 L413.30,451.88 L414.12,451.01 L414.94,450.13 L415.74,449.24 L416.53,448.34 L417.31,447.43 L418.08,446.52 L418.84,445.59 L419.59,444.65 L420.32,443.70 L421.05,442.75 L421.76,441.78 L422.46,440.81 L423.16,439.83 L423.84,438.84 L424.51,437.85 L425.17,436.84 L425.83,435.83 L426.47,434.81 L427.10,433.78 L427.72,432.75 L428.33,431.71 L428.94,430.66 L429.53,429.61 L430.12,428.55 L430.69,427.48 L431.26,426.41 L431.81,425.34 L432.36,424.25 L432.90,423.17 L433.43,422.07 L433.95,420.98 L434.47,419.87 L434.97,418.77 L435.47,417.66 L435.96,416.54 L436.44,415.42 L436.91,414.30 L437.37,413.18 L437.83,412.05 L438.28,410.92 L438.72,409.78 L439.16,408.64 L439.58,407.50 L440.00,406.36 L440.41,405.22 L440.82,404.07 L441.22,402.92 L441.61,401.78 L442.00,400.63 L442.38,399.47 L442.75,398.32 L443.11,397.17 L443.47,396.01 L443.83,394.86 L444.18,393.71 L444.52,392.55 L444.85,391.40 L445.18,390.25 L445.51,389.09 L445.83,387.94 L446.14,386.79 L446.45,385.64 L446.75,384.49 L447.05,383.35 L447.34,382.20 L447.63,381.06 L447.92,379.92 L448.20,378.78 L448.47,377.65 L448.20,378.69 L448.06,379.89 L447.90,381.09 L447.75,382.29 L447.59,383.49 L447.43,384.69 L447.27,385.88 L447.10,387.08 L446.92,388.27 L446.75,389.47 L446.57,390.66 L446.38,391.85 L446.20,393.05 L446.01,394.24 L445.81,395.43 L445.61,396.61 L445.41,397.80 L445.20,398.99 L444.99,400.17 L444.77,401.36 L444.55,402.54 L444.33,403.72 L444.10,404.90 L443.87,406.08 L443.63,407.26 L443.39,408.44 L443.15,409.61 L442.90,410.79 L442.64,411.96 L442.38,413.13 L442.12,414.31 L441.85,415.48 L441.58,416.64 L441.30,417.81 L441.02,418.98 L440.73,420.14 L440.44,421.31 L440.14,422.47 L439.84,423.63 L439.53,424.79 L439.22,425.95 L438.91,427.11 L438.58,428.26 L438.26,429.42 L437.92,430.57 L437.59,431.72 L437.24,432.87 L436.90,434.02 L436.54,435.17 L436.18,436.31 L435.82,437.46 L435.45,438.60 L435.08,439.74 L434.70,440.88 L434.31,442.02 L433.92,443.16 L433.52,444.29 L433.12,445.43 L432.71,446.56 L432.29,447.69 L431.87,448.82 L431.45,449.95 L431.02,451.07 L430.58,452.20 L430.13,453.32 L429.68,454.44 L429.23,455.56 L428.76,456.68 L428.30,457.80 L427.82,458.91 L427.34,460.02 L426.85,461.13 L426.36,462.24 L425.85,463.34 L425.34,464.44 L424.83,465.53 L424.30,466.63 L423.77,467.72 L423.24,468.80 L422.69,469.88 L422.13,470.96 L421.57,472.03 L421.00,473.09 L420.42,474.16 L419.84,475.21 L419.24,476.26 L418.64,477.31 L418.03,478.34 L417.40,479.38 L416.77,480.40 L416.13,481.42 L415.48,482.43 L414.83,483.44 L414.16,484.43 L413.48,485.42 L412.79,486.40 L412.10,487.38 L411.39,488.34 L410.67,489.30 L409.94,490.25 L409.20,491.19 L408.46,492.12 L407.70,493.04 L406.93,493.95 L406.14,494.85 L405.35,495.74 L404.55,496.63 L403.74,497.50 L402.91,498.36 L402.08,499.22 L401.23,500.06 L400.38,500.90 L399.52,501.73 L398.65,502.55 L397.77,503.36 L396.88,504.16 L395.98,504.95 L395.08,505.74 L394.17,506.51 L393.25,507.28 L392.32,508.05 L391.38,508.80 L390.44,509.55 L389.49,510.29 L388.54,511.02 L387.58,511.74 L386.61,512.46 L385.64,513.18 L384.67,513.88 L383.69,514.59 L382.70,515.29 L381.72,515.98 L380.73,516.67 L379.74,517.36 L378.74,518.05 L377.75,518.73 L376.75,519.42 L375.75,520.10 L374.76,520.78 L373.76,521.46 L372.76,522.13 L371.76,522.81 L370.75,523.48 L369.75,524.15 L368.75,524.82 L367.74,525.48 L366.73,526.14 L365.72,526.80 L364.71,527.46 L363.70,528.11 L362.68,528.76 L361.67,529.40 L360.65,530.04 L359.63,530.68 L358.60,531.31 L357.58,531.94 L356.55,532.56 L355.52,533.18 L354.49,533.79 L353.45,534.40 L352.41,535.01 L351.37,535.61 L350.33,536.20 L349.28,536.78 L348.23,537.37 L347.18,537.94 L346.12,538.51 L345.06,539.07 L344.00,539.63 L342.93,540.18 L341.86,540.72 L340.79,541.26 L339.71,541.79 L338.63,542.31 L337.54,542.82 L336.46,543.33 L335.37,543.83 L334.27,544.33 L333.18,544.83 L332.08,545.32 L330.98,545.81 L329.89,546.30 L328.79,546.78 L327.69,547.27 L326.59,547.75 L325.49,548.24 L324.39,548.73 L323.29,549.22 L322.19,549.71 L321.10,550.20 L320.00,550.70 L318.91,551.21 L317.82,551.72 L316.74,552.23 L315.66,552.76 L314.58,553.29 L313.50,553.82 L312.43,554.37 L311.37,554.92 L310.31,555.49 L309.25,556.07 L308.20,556.65 L307.16,557.25 L306.12,557.86 L305.08,558.47 L304.05,559.09 L303.02,559.71 L301.99,560.34 L300.97,560.98 L299.94,561.61 L298.92,562.25 L297.89,562.88 L296.87,563.52 L295.84,564.15 L294.82,564.79 L293.79,565.42 L292.76,566.05 L291.73,566.68 L290.70,567.30 L289.67,567.93 L288.64,568.55 L287.61,569.18 L286.58,569.80 L285.55,570.42 L284.52,571.04 L283.48,571.65 L282.45,572.27 L281.41,572.89 L280.38,573.50 L279.34,574.12 L278.31,574.73 L277.27,575.34 L276.23,575.95 L275.19,576.56 L274.16,577.17 L273.12,577.78 L272.08,578.39 L271.04,578.99 L270.00,579.60 L268.96,580.21 L267.92,580.81 L266.88,581.41 L265.84,582.02 L264.79,582.62 L263.75,583.22 L262.71,583.83 L261.67,584.43 L260.62,585.03 L259.58,585.63 L258.54,586.23 L257.49,586.83 L256.45,587.43 L255.41,588.03 L254.36,588.63 L253.32,589.23 L252.27,589.83 L251.23,590.43 L250.19,591.03 L249.14,591.63 L248.10,592.23 L247.05,592.83 L246.01,593.43 L244.96,594.03 L243.92,594.63 L242.87,595.23 L241.83,595.83 L240.78,596.44 L239.73,597.03 L238.69,597.63 L237.64,598.23 L236.59,598.82 L235.54,599.41 L234.49,600.00 L233.44,600.59 L232.38,601.17 L231.33,601.75 L230.27,602.32 L229.21,602.88 L228.14,603.45 L227.08,604.00 L226.01,604.55 L224.93,605.09 L223.86,605.63 L222.78,606.15 L221.70,606.67 L220.61,607.18 L219.52,607.69 L218.42,608.18 L217.32,608.66 L216.22,609.13 L215.11,609.59 L214.00,610.04 L212.88,610.48 L211.75,610.91 L210.62,611.33 L209.48,611.73 L208.34,612.12 L207.19,612.49 L206.04,612.85 L204.88,613.20 L203.71,613.53"/>
<path stroke="#3a8fd0" d="M203.71,614.40 L204.89,614.17 L206.07,613.91 L207.25,613.64 L208.42,613.35 L209.59,613.04 L210.75,612.72 L211.90,612.38 L213.06,612.03 L214.20,611.66 L215.34,611.28 L216.48,610.88 L217.61,610.47 L218.74,610.04 L219.86,609.60 L220.98,609.15 L222.09,608.68 L223.20,608.21 L224.31,607.72 L225.41,607.21 L226.50,606.70 L227.59,606.17 L228.67,605.64 L229.75,605.09 L230.83,604.54 L231.90,603.97 L232.96,603.39 L234.03,602.81 L235.08,602.21 L236.13,601.61 L237.18,601.00 L238.22,600.38 L239.26,599.75 L240.29,599.12 L241.32,598.48 L242.34,597.83 L243.36,597.18 L244.38,596.52 L245.39,595.85 L246.39,595.18 L247.39,594.51 L248.38,593.82 L249.37,593.14 L250.36,592.44 L251.34,591.74 L252.31,591.04 L253.28,590.33 L254.24,589.61 L255.19,588.89 L256.14,588.16 L257.09,587.43 L258.02,586.69 L258.95,585.95 L259.88,585.20 L260.80,584.44 L261.71,583.68 L262.62,582.92 L263.52,582.15 L264.42,581.38 L265.31,580.60 L266.20,579.82 L267.09,579.03 L267.98,578.24 L268.87,577.45 L269.75,576.66 L270.64,575.86 L271.53,575.06 L272.41,574.25 L273.30,573.45 L274.20,572.64 L275.09,571.83 L275.99,571.02 L276.88,570.20 L277.78,569.39 L278.68,568.58 L279.59,567.76 L280.49,566.95 L281.40,566.14 L282.31,565.33 L283.23,564.52 L284.14,563.71 L285.06,562.90 L285.98,562.10 L286.90,561.29 L287.83,560.50 L288.76,559.70 L289.70,558.91 L290.63,558.12 L291.57,557.34 L292.51,556.56 L293.46,555.78 L294.41,555.01 L295.36,554.25 L296.32,553.49 L297.28,552.74 L298.24,551.99 L299.21,551.25 L300.18,550.52 L301.16,549.80 L302.14,549.08 L303.13,548.38 L304.11,547.68 L305.11,546.99 L306.10,546.31 L307.11,545.63 L308.11,544.97 L309.12,544.32 L310.14,543.68 L311.16,543.05 L312.19,542.43 L313.22,541.82 L314.25,541.22 L315.29,540.64 L316.34,540.07 L317.39,539.51 L318.44,538.96 L319.51,538.43 L320.57,537.91 L321.65,537.41 L322.72,536.92 L323.81,536.44 L324.90,535.98 L325.99,535.54 L327.10,535.11 L328.20,534.70 L329.32,534.30 L330.44,533.92 L331.57,533.55 L332.70,533.21 L333.84,532.88 L334.98,532.57 L336.14,532.28 L337.29,532.00 L338.46,531.75 L339.63,531.51 L340.81,531.28 L341.99,531.07 L343.17,530.87 L344.36,530.69 L345.56,530.52 L346.76,530.37 L347.96,530.22 L349.17,530.09 L350.38,529.97 L351.59,529.86 L352.81,529.76 L354.02,529.66 L355.24,529.58 L356.47,529.50 L357.69,529.43 L358.92,529.37 L360.14,529.31 L361.37,529.26 L362.60,529.21 L363.83,529.17 L365.05,529.13 L366.28,529.09 L367.51,529.05 L368.74,529.02 L369.96,528.98 L371.19,528.95 L372.41,528.92 L373.63,528.88 L374.85,528.85 L376.07,528.81 L377.28,528.77 L378.49,528.72 L379.70,528.68 L380.91,528.62 L382.11,528.57 L383.31,528.51 L384.51,528.44 L385.70,528.37 L386.90,528.29 L388.09,528.21 L389.28,528.12 L390.47,528.03 L391.66,527.92 L392.85,527.82 L394.03,527.70 L395.22,527.58 L396.40,527.45 L397.59,527.31 L398.77,527.16 L399.95,527.00 L401.14,526.84 L402.32,526.66 L403.50,526.48 L404.69,526.29 L405.87,526.08 L407.05,525.87 L408.24,525.64 L409.42,525.41 L410.61,525.16 L411.79,524.90 L412.97,524.63 L414.15,524.35 L415.33,524.05 L416.50,523.74 L417.67,523.42 L418.84,523.08 L420.00,522.73 L421.16,522.37 L422.31,521.99 L423.45,521.59 L424.59,521.18 L425.72,520.76 L426.85,520.32 L427.96,519.86 L429.07,519.39 L430.17,518.89 L431.26,518.38 L432.33,517.86 L433.40,517.31 L434.46,516.75 L435.50,516.17 L436.54,515.57 L437.56,514.95 L438.57,514.31 L439.56,513.65 L440.54,512.97 L441.50,512.26 L442.46,511.54 L443.39,510.80 L444.31,510.03 L445.21,509.25 L446.10,508.44 L446.96,507.60 L447.81,506.75 L448.64,505.87 L449.46,504.97 L450.25,504.04 L451.02,503.09 L451.77,502.11 L452.50,501.11 L453.21,500.09 L453.90,499.03 L454.56,497.96 L455.20,496.85 L454.83,498.09 L454.53,499.24 L454.22,500.40 L453.90,501.56 L453.57,502.73 L453.22,503.90 L452.85,505.07 L452.47,506.24 L452.08,507.41 L451.67,508.57 L451.24,509.73 L450.80,510.89 L450.33,512.04 L449.85,513.18 L449.35,514.31 L448.83,515.43 L448.30,516.54 L447.74,517.64 L447.16,518.72 L446.56,519.78 L445.94,520.83 L445.29,521.86 L444.63,522.87 L443.94,523.86 L443.22,524.82 L442.49,525.76 L441.73,526.69 L440.95,527.59 L440.15,528.47 L439.33,529.33 L438.49,530.17 L437.63,530.99 L436.75,531.79 L435.86,532.58 L434.95,533.35 L434.02,534.10 L433.08,534.84 L432.13,535.56 L431.16,536.27 L430.18,536.96 L429.19,537.64 L428.19,538.30 L427.17,538.96 L426.15,539.60 L425.12,540.23 L424.08,540.85 L423.03,541.46 L421.98,542.06 L420.92,542.65 L419.86,543.23 L418.79,543.81 L417.72,544.38 L416.64,544.94 L415.56,545.49 L414.48,546.04 L413.40,546.58 L412.31,547.12 L411.22,547.65 L410.13,548.17 L409.04,548.69 L407.94,549.20 L406.84,549.71 L405.74,550.21 L404.63,550.71 L403.53,551.20 L402.42,551.68 L401.31,552.16 L400.20,552.64 L399.08,553.11 L397.97,553.58 L396.85,554.04 L395.73,554.50 L394.61,554.95 L393.48,555.40 L392.36,555.84 L391.23,556.29 L390.10,556.73 L388.97,557.16 L387.84,557.59 L386.71,558.02 L385.58,558.45 L384.44,558.87 L383.30,559.29 L382.17,559.70 L381.03,560.12 L379.89,560.53 L378.75,560.94 L377.61,561.35 L376.47,561.75 L375.33,562.16 L374.19,562.56 L373.05,562.96 L371.90,563.36 L370.76,563.76 L369.61,564.15 L368.47,564.55 L367.33,564.94 L366.18,565.34 L365.04,565.73 L363.89,566.12 L362.75,566.51 L361.60,566.90 L360.46,567.29 L359.32,567.68 L358.17,568.08 L357.03,568.47 L355.89,568.86 L354.74,569.25 L353.60,569.64 L352.46,570.02 L351.31,570.41 L350.17,570.79 L349.02,571.18 L347.88,571.56 L346.73,571.94 L345.59,572.32 L344.44,572.69 L343.29,573.06 L342.14,573.43 L340.99,573.79 L339.84,574.16 L338.69,574.51 L337.53,574.87 L336.38,575.22 L335.22,575.56 L334.06,575.91 L332.90,576.24 L331.74,576.58 L330.58,576.91 L329.42,577.25 L328.26,577.59 L327.10,577.93 L325.94,578.27 L324.79,578.62 L323.63,578.97 L322.48,579.33 L321.33,579.71 L320.19,580.09 L319.05,580.48 L317.91,580.87 L316.78,581.28 L315.64,581.69 L314.51,582.11 L313.38,582.54 L312.26,582.97 L311.13,583.41 L310.01,583.86 L308.89,584.30 L307.77,584.76 L306.66,585.21 L305.54,585.68 L304.43,586.14 L303.31,586.61 L302.20,587.08 L301.09,587.55 L299.97,588.02 L298.86,588.49 L297.75,588.97 L296.64,589.44 L295.53,589.92 L294.41,590.39 L293.30,590.86 L292.19,591.34 L291.07,591.81 L289.96,592.27 L288.84,592.74 L287.73,593.20 L286.61,593.66 L285.49,594.11 L284.36,594.56 L283.24,595.01 L282.11,595.45 L280.99,595.88 L279.86,596.32 L278.73,596.74 L277.59,597.16 L276.46,597.58 L275.32,598.00 L274.18,598.40 L273.05,598.81 L271.90,599.21 L270.76,599.60 L269.62,599.99 L268.47,600.38 L267.32,600.76 L266.18,601.14 L265.03,601.51 L263.87,601.88 L262.72,602.25 L261.57,602.61 L260.41,602.96 L259.25,603.31 L258.09,603.66 L256.93,604.00 L255.77,604.34 L254.61,604.67 L253.45,605.00 L252.28,605.33 L251.12,605.65 L249.95,605.96 L248.78,606.27 L247.61,606.58 L246.44,606.89 L245.27,607.18 L244.09,607.48 L242.92,607.77 L241.74,608.06 L240.57,608.34 L239.39,608.62 L238.21,608.89 L237.03,609.16 L235.85,609.43 L234.67,609.69 L233.49,609.94 L232.31,610.20 L231.12,610.45 L229.94,610.69 L228.75,610.93 L227.57,611.17 L226.38,611.40 L225.19,611.63 L224.00,611.85 L222.82,612.08 L221.63,612.29 L220.44,612.50 L219.24,612.71 L218.05,612.92 L216.86,613.12 L215.67,613.31 L214.47,613.51 L213.28,613.69 L212.09,613.88 L210.89,614.06 L209.70,614.24 L208.50,614.41 L207.30,614.58 L206.11,614.74 L204.91,614.90 L203.71,615.06"/>
<path stroke="#26397a" d="M203.67,613.15 L204.85,612.87 L206.03,612.58 L207.21,612.29 L208.38,611.99 L209.55,611.68 L210.72,611.37 L211.89,611.05 L213.05,610.72 L214.21,610.38 L215.37,610.04 L216.53,609.70 L217.68,609.35 L218.83,608.99 L219.98,608.63 L221.13,608.26 L222.28,607.88 L223.42,607.50 L224.56,607.11 L225.70,606.72 L226.84,606.33 L227.97,605.92 L229.10,605.52 L230.24,605.11 L231.37,604.69 L232.49,604.27 L233.62,603.84 L234.74,603.41 L235.86,602.98 L236.99,602.54 L238.10,602.09 L239.22,601.65 L240.34,601.19 L241.45,600.74 L242.56,600.28 L243.68,599.82 L244.79,599.35 L245.89,598.88 L247.00,598.41 L248.11,597.93 L249.21,597.45 L250.32,596.97 L251.42,596.48 L252.52,595.99 L253.62,595.50 L254.72,595.01 L255.82,594.51 L256.91,594.01 L258.01,593.51 L259.10,593.01 L260.20,592.50 L261.29,591.99 L262.38,591.48 L263.48,590.97 L264.57,590.45 L265.66,589.94 L266.75,589.42 L267.84,588.90 L268.93,588.38 L270.02,587.86 L271.10,587.34 L272.19,586.82 L273.28,586.29 L274.36,585.77 L275.45,585.24 L276.54,584.72 L277.62,584.19 L278.71,583.66 L279.79,583.13 L280.88,582.60 L281.96,582.08 L283.05,581.55 L284.14,581.02 L285.22,580.49 L286.31,579.96 L287.39,579.44 L288.48,578.91 L289.56,578.39 L290.65,577.86 L291.74,577.34 L292.83,576.82 L293.91,576.30 L295.00,575.79 L296.09,575.28 L297.19,574.77 L298.28,574.26 L299.37,573.76 L300.47,573.26 L301.57,572.77 L302.67,572.28 L303.77,571.80 L304.87,571.32 L305.97,570.85 L307.08,570.38 L308.19,569.92 L309.30,569.46 L310.41,569.01 L311.53,568.57 L312.64,568.14 L313.76,567.71 L314.89,567.29 L316.01,566.88 L317.14,566.47 L318.27,566.08 L319.41,565.69 L320.55,565.31 L321.69,564.95 L322.83,564.59 L323.98,564.24 L325.13,563.90 L326.29,563.57 L327.45,563.24 L328.61,562.93 L329.77,562.62 L330.93,562.32 L332.10,562.02 L333.27,561.73 L334.44,561.44 L335.61,561.16 L336.78,560.88 L337.96,560.61 L339.14,560.34 L340.31,560.07 L341.49,559.80 L342.67,559.54 L343.85,559.28 L345.03,559.01 L346.20,558.75 L347.38,558.49 L348.56,558.22 L349.74,557.96 L350.92,557.69 L352.09,557.43 L353.27,557.16 L354.45,556.89 L355.62,556.62 L356.80,556.35 L357.98,556.08 L359.15,555.81 L360.33,555.53 L361.50,555.26 L362.68,554.99 L363.85,554.71 L365.03,554.43 L366.20,554.15 L367.37,553.87 L368.55,553.59 L369.72,553.31 L370.89,553.03 L372.06,552.75 L373.23,552.46 L374.41,552.18 L375.58,551.89 L376.75,551.60 L377.92,551.31 L379.09,551.02 L380.26,550.73 L381.43,550.44 L382.59,550.14 L383.76,549.85 L384.93,549.55 L386.10,549.25 L387.27,548.95 L388.43,548.65 L389.60,548.35 L390.76,548.05 L391.93,547.74 L393.10,547.44 L394.26,547.13 L395.42,546.82 L396.59,546.51 L397.75,546.20 L398.92,545.88 L400.08,545.57 L401.24,545.25 L402.40,544.93 L403.56,544.61 L404.73,544.29 L405.89,543.97 L407.05,543.64 L408.21,543.32 L409.37,542.99 L410.52,542.66 L411.68,542.33 L412.84,541.99 L413.99,541.66 L415.15,541.32 L416.30,540.97 L417.46,540.62 L418.61,540.27 L419.76,539.92 L420.91,539.56 L422.06,539.20 L423.20,538.83 L424.35,538.46 L425.49,538.08 L426.63,537.70 L427.77,537.31 L428.91,536.91 L430.04,536.51 L431.18,536.11 L432.31,535.70 L433.44,535.28 L434.56,534.85 L435.69,534.42 L436.81,533.98 L437.93,533.53 L439.04,533.08 L440.15,532.62 L441.26,532.15 L442.37,531.67 L443.48,531.18 L444.58,530.69 L445.68,530.18 L446.77,529.67 L447.86,529.14 L448.95,528.61 L450.03,528.07 L451.12,527.52 L452.19,526.95 L451.86,528.19 L451.26,529.28 L450.64,530.35 L449.99,531.39 L449.33,532.42 L448.65,533.42 L447.95,534.41 L447.23,535.38 L446.49,536.32 L445.74,537.25 L444.96,538.16 L444.17,539.05 L443.37,539.93 L442.55,540.79 L441.71,541.63 L440.86,542.46 L439.99,543.27 L439.11,544.07 L438.21,544.85 L437.31,545.61 L436.39,546.37 L435.46,547.11 L434.51,547.84 L433.56,548.55 L432.59,549.26 L431.62,549.95 L430.63,550.63 L429.64,551.30 L428.64,551.96 L427.63,552.61 L426.61,553.25 L425.58,553.88 L424.55,554.50 L423.51,555.12 L422.47,555.73 L421.42,556.33 L420.37,556.92 L419.31,557.51 L418.25,558.09 L417.18,558.67 L416.12,559.24 L415.04,559.81 L413.97,560.37 L412.90,560.93 L411.82,561.48 L410.74,562.03 L409.66,562.58 L408.58,563.12 L407.49,563.65 L406.41,564.19 L405.32,564.71 L404.23,565.24 L403.13,565.75 L402.04,566.27 L400.94,566.78 L399.84,567.28 L398.74,567.78 L397.64,568.28 L396.53,568.77 L395.43,569.26 L394.32,569.74 L393.21,570.22 L392.10,570.70 L390.98,571.16 L389.87,571.63 L388.75,572.09 L387.63,572.55 L386.51,573.00 L385.39,573.45 L384.27,573.89 L383.15,574.33 L382.02,574.76 L380.89,575.19 L379.76,575.61 L378.63,576.03 L377.50,576.45 L376.36,576.86 L375.23,577.27 L374.09,577.67 L372.95,578.07 L371.82,578.46 L370.67,578.85 L369.53,579.23 L368.39,579.61 L367.24,579.98 L366.10,580.35 L364.95,580.72 L363.80,581.08 L362.65,581.44 L361.50,581.79 L360.35,582.14 L359.20,582.48 L358.04,582.82 L356.89,583.15 L355.73,583.48 L354.58,583.81 L353.42,584.13 L352.26,584.44 L351.10,584.76 L349.94,585.07 L348.78,585.38 L347.61,585.68 L346.45,585.98 L345.29,586.28 L344.12,586.58 L342.96,586.87 L341.79,587.16 L340.62,587.45 L339.45,587.74 L338.29,588.02 L337.12,588.30 L335.95,588.58 L334.78,588.86 L333.61,589.14 L332.44,589.42 L331.27,589.70 L330.10,589.97 L328.93,590.25 L327.76,590.52 L326.58,590.79 L325.41,591.07 L324.24,591.34 L323.07,591.62 L321.90,591.89 L320.72,592.16 L319.55,592.44 L318.38,592.71 L317.20,592.99 L316.03,593.26 L314.86,593.54 L313.69,593.82 L312.51,594.09 L311.34,594.37 L310.17,594.64 L308.99,594.92 L307.82,595.20 L306.65,595.47 L305.47,595.75 L304.30,596.03 L303.13,596.31 L301.95,596.58 L300.78,596.86 L299.61,597.14 L298.43,597.42 L297.26,597.69 L296.08,597.97 L294.91,598.25 L293.74,598.52 L292.56,598.80 L291.39,599.08 L290.21,599.35 L289.04,599.63 L287.87,599.91 L286.69,600.18 L285.52,600.46 L284.34,600.73 L283.17,601.01 L281.99,601.28 L280.82,601.55 L279.64,601.83 L278.47,602.10 L277.29,602.37 L276.12,602.64 L274.94,602.91 L273.77,603.18 L272.59,603.45 L271.42,603.71 L270.24,603.98 L269.06,604.24 L267.89,604.50 L266.71,604.76 L265.53,605.02 L264.35,605.28 L263.18,605.54 L262.00,605.79 L260.82,606.04 L259.64,606.30 L258.46,606.55 L257.28,606.79 L256.10,607.04 L254.92,607.28 L253.74,607.52 L252.56,607.76 L251.38,608.00 L250.20,608.24 L249.02,608.47 L247.83,608.70 L246.65,608.93 L245.47,609.15 L244.28,609.38 L243.10,609.60 L241.91,609.81 L240.73,610.03 L239.54,610.24 L238.36,610.45 L237.17,610.66 L235.98,610.86 L234.80,611.06 L233.61,611.26 L232.42,611.45 L231.23,611.64 L230.04,611.83 L228.85,612.01 L227.66,612.19 L226.47,612.37 L225.27,612.54 L224.08,612.71 L222.89,612.88 L221.69,613.04 L220.50,613.20 L219.30,613.36 L218.11,613.51 L216.91,613.65 L215.71,613.80 L214.51,613.94 L213.31,614.07 L212.11,614.20 L210.91,614.33 L209.71,614.45 L208.51,614.56 L207.31,614.68 L206.10,614.79 L204.90,614.89 L203.69,614.99"/>
</g>
<line x1="202.90" y1="343.40" x2="488.25" y2="343.40" stroke="#444" stroke-width="1.40"/><line x1="487.50" y1="342.70" x2="487.50" y2="616.20" stroke="#474747" stroke-width="1.50"/><line x1="202.90" y1="615.20" x2="488.25" y2="615.20" stroke="#606060" stroke-width="2.00"/><line x1="203.90" y1="342.70" x2="203.90" y2="616.20" stroke="#6a6a6a" stroke-width="2.00"/>
<g stroke="#777" stroke-width="1">
<line x1="201.5" y1="547.0" x2="204" y2="547.0"/>
<line x1="201.5" y1="479.2" x2="204" y2="479.2"/>
<line x1="201.5" y1="411.4" x2="204" y2="411.4"/>
<line x1="274.9" y1="614.8" x2="274.9" y2="617"/>
<line x1="345.7" y1="614.8" x2="345.7" y2="617"/>
<line x1="416.6" y1="614.8" x2="416.6" y2="617"/>
</g>
<g font-family="&quot;Liberation Sans&quot;, sans-serif" font-size="11" font-weight="bold" fill="#111">
<text x="199.6" y="347.3" text-anchor="end">16.0</text>
<text x="199.6" y="415.1" text-anchor="end">12.0</text>
<text x="199.6" y="482.9" text-anchor="end">8.0</text>
<text x="199.6" y="550.7" text-anchor="end">4.0</text>
<text x="199.6" y="616.3" text-anchor="end">0.0</text>
<text x="205.3" y="628.2" text-anchor="middle">500</text>
<text x="274.9" y="628.2" text-anchor="middle">700</text>
<text x="345.7" y="628.2" text-anchor="middle">900</text>
<text x="416.6" y="628.2" text-anchor="middle">1100</text>
<text x="489.6" y="628.2" text-anchor="middle">1300</text>
<text x="341.7" y="641.5" text-anchor="middle">E / mV vs. Ag/AgCl/KCl</text>
<text transform="translate(177.8,477.3) rotate(-90)" text-anchor="middle">I / µA</text>
<text x="212.5" y="360.4" font-size="13">C</text>
<text x="454.6" y="382.6" font-size="12.5">c</text>
<text x="460.7" y="499.9" font-size="12.5">b</text>
<text x="458.3" y="538.6" font-size="12.5">a</text>
</g>
</svg>
</body></html>
